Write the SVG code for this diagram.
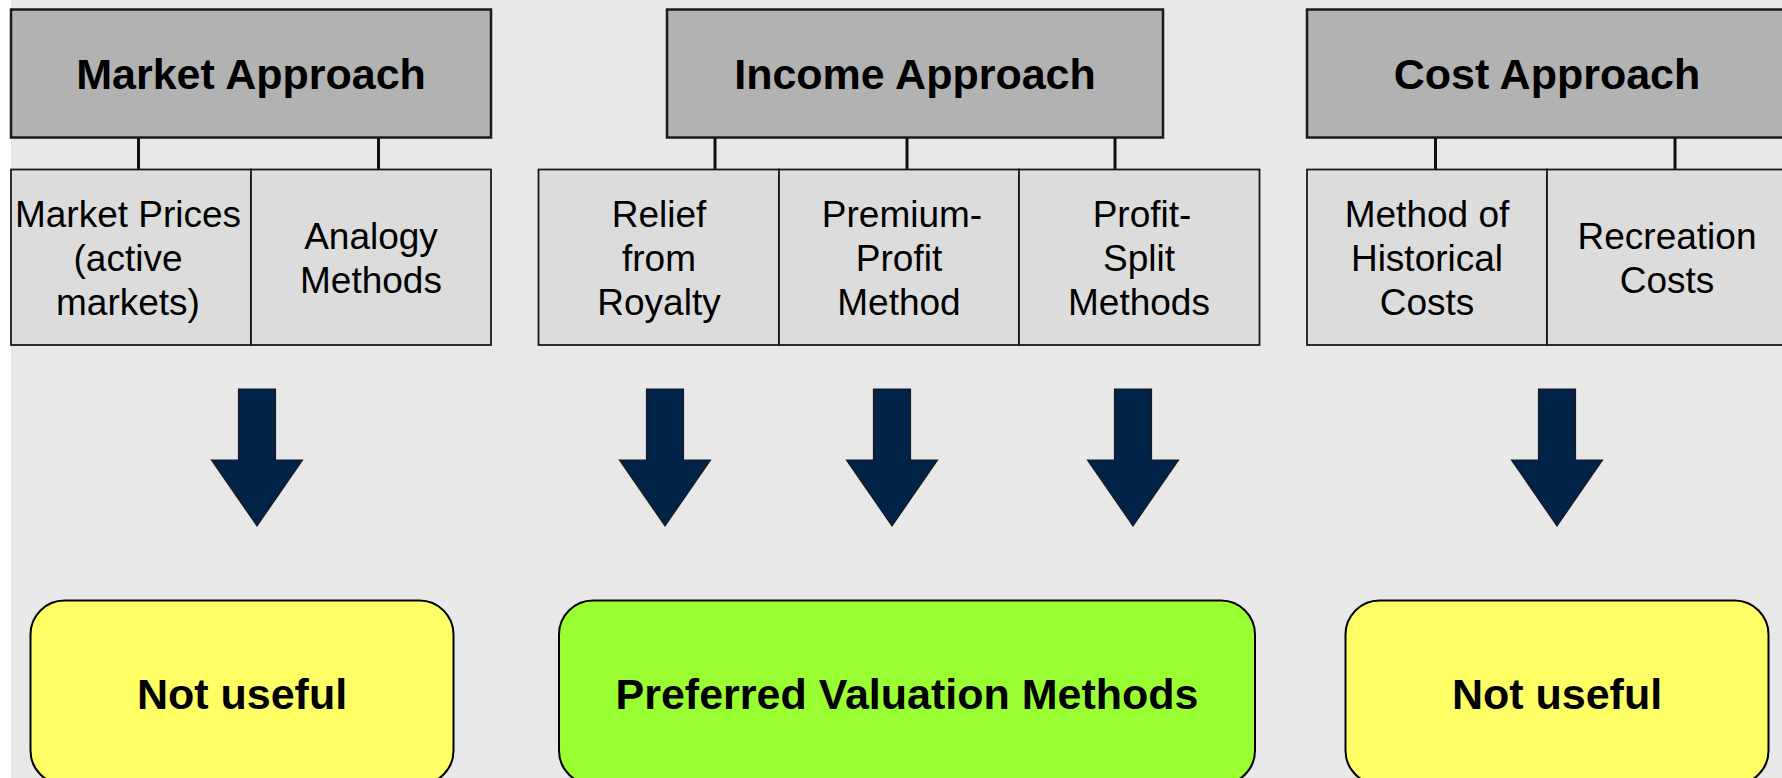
<svg xmlns="http://www.w3.org/2000/svg" width="1782" height="778" viewBox="0 0 1782 778">
<defs>
<style>
.hdr{fill:#b2b2b2;stroke:#1a1a1a;stroke-width:2.5}
.sub{fill:#dcdcdc;stroke:#1a1a1a;stroke-width:1.8}
.con{stroke:#111;stroke-width:3;fill:none}
.arr{fill:#002347;stroke:#1a1a1a;stroke-width:1.2}
.res{stroke:#000;stroke-width:2}
.ht{font-family:"Liberation Sans",Arial,sans-serif;font-weight:bold;font-size:43px;fill:#000;text-anchor:middle}
.st{font-family:"Liberation Sans",Arial,sans-serif;font-size:37px;fill:#000;text-anchor:middle}
.rt{font-family:"Liberation Sans",Arial,sans-serif;font-weight:bold;font-size:43px;fill:#000;text-anchor:middle}
</style>
<path id="a" d="M-18.5,0 H18.5 V71 H45.5 L0,137 L-45.5,71 H-18.5 Z"/>
</defs>
<rect x="0" y="0" width="1782" height="778" fill="#ffffff"/>
<rect x="11" y="0" width="1771" height="778" fill="#e8e8e8"/>

<g id="connectors">
<line class="con" x1="138.5" y1="137" x2="138.5" y2="170"/>
<line class="con" x1="378.5" y1="137" x2="378.5" y2="170"/>
<line class="con" x1="715" y1="137" x2="715" y2="170"/>
<line class="con" x1="907" y1="137" x2="907" y2="170"/>
<line class="con" x1="1115" y1="137" x2="1115" y2="170"/>
<line class="con" x1="1435.5" y1="137" x2="1435.5" y2="170"/>
<line class="con" x1="1675" y1="137" x2="1675" y2="170"/>
<use href="#a" class="arr" x="257" y="389"/>
<use href="#a" class="arr" x="665" y="389"/>
<use href="#a" class="arr" x="892" y="389"/>
<use href="#a" class="arr" x="1133" y="389"/>
<use href="#a" class="arr" x="1557" y="389"/>
</g>

<g id="market-approach">
<rect class="hdr" x="11" y="9.5" width="480" height="128"/>
<text class="ht" x="251" y="89">Market Approach</text>
</g>
<g id="income-approach">
<rect class="hdr" x="667" y="9.5" width="496" height="128"/>
<text class="ht" x="915" y="89">Income Approach</text>
</g>
<g id="cost-approach">
<rect class="hdr" x="1307" y="9.5" width="490" height="128"/>
<text class="ht" x="1547" y="89">Cost Approach</text>
</g>

<g id="market-prices">
<rect class="sub" x="11" y="169.5" width="240" height="175.5"/>
<text class="st" x="128" y="227">Market Prices</text>
<text class="st" x="128" y="271">(active</text>
<text class="st" x="128" y="315">markets)</text>
</g>
<g id="analogy-methods">
<rect class="sub" x="251" y="169.5" width="240" height="175.5"/>
<text class="st" x="371" y="249">Analogy</text>
<text class="st" x="371" y="293">Methods</text>
</g>
<g id="relief-from-royalty">
<rect class="sub" x="538.5" y="169.5" width="240.5" height="175.5"/>
<text class="st" x="659" y="227">Relief</text>
<text class="st" x="659" y="271">from</text>
<text class="st" x="659" y="315">Royalty</text>
</g>
<g id="premium-profit">
<rect class="sub" x="779" y="169.5" width="240" height="175.5"/>
<text class="st" x="902" y="227">Premium-</text>
<text class="st" x="899" y="271">Profit</text>
<text class="st" x="899" y="315">Method</text>
</g>
<g id="profit-split">
<rect class="sub" x="1019" y="169.5" width="240.5" height="175.5"/>
<text class="st" x="1142" y="227">Profit-</text>
<text class="st" x="1139" y="271">Split</text>
<text class="st" x="1139" y="315">Methods</text>
</g>
<g id="historical-costs">
<rect class="sub" x="1307" y="169.5" width="240" height="175.5"/>
<text class="st" x="1427" y="227">Method of</text>
<text class="st" x="1427" y="271">Historical</text>
<text class="st" x="1427" y="315">Costs</text>
</g>
<g id="recreation-costs">
<rect class="sub" x="1547" y="169.5" width="240" height="175.5"/>
<text class="st" x="1667" y="249">Recreation</text>
<text class="st" x="1667" y="293">Costs</text>
</g>

<g id="not-useful-market">
<rect class="res" x="30.5" y="600.5" width="423" height="184" rx="34" ry="34" fill="#ffff66"/>
<text class="rt" x="242" y="709">Not useful</text>
</g>
<g id="preferred-methods">
<rect class="res" x="559" y="600.5" width="696" height="184" rx="34" ry="34" fill="#99ff33"/>
<text class="rt" x="907" y="709">Preferred Valuation Methods</text>
</g>
<g id="not-useful-cost">
<rect class="res" x="1345.5" y="600.5" width="423" height="184" rx="34" ry="34" fill="#ffff66"/>
<text class="rt" x="1557" y="709">Not useful</text>
</g>
</svg>
